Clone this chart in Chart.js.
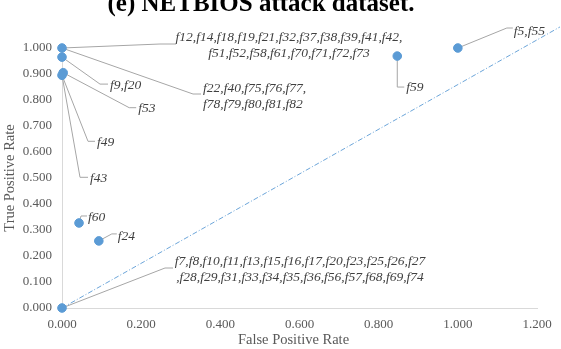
<!DOCTYPE html>
<html>
<head>
<meta charset="utf-8">
<script src="https://cdn.jsdelivr.net/npm/chart.js@4"></script>
<style>
  html, body { margin: 0; padding: 0; background: #ffffff; }
  #wrap { width: 561px; height: 349px; position: relative; }
</style>
</head>
<body>
<div id="wrap"><canvas id="c" width="561" height="349"></canvas></div>
<script>
// ---- data ----
const titleText = "(e) NETBIOS attack dataset.";
const xAxisTitle = "False Positive Rate";
const yAxisTitle = "True Positive Rate";
const xTicks = [0, 0.2, 0.4, 0.6, 0.8, 1.0, 1.2];
const yTicks = [0, 0.1, 0.2, 0.3, 0.4, 0.5, 0.6, 0.7, 0.8, 0.9, 1.0];
const fpr = [0, 0, 0.003, 0, 0.043, 0.093, 0.847, 1.0, 0];
const tpr = [1.0, 0.965, 0.905, 0.895, 0.327, 0.258, 0.969, 1.0, 0];
const refLineX = [0, 1.258];
const refLineY = [0, 1.081];
const labelTexts = [
  ["f12,f14,f18,f19,f21,f32,f37,f38,f39,f41,f42,", "f51,f52,f58,f61,f70,f71,f72,f73"],
  ["f22,f40,f75,f76,f77,", "f78,f79,f80,f81,f82"],
  ["f9,f20"],
  ["f53"],
  ["f49"],
  ["f43"],
  ["f60"],
  ["f24"],
  ["f59"],
  ["f5,f55"],
  ["f7,f8,f10,f11,f13,f15,f16,f17,f20,f23,f25,f26,f27", ",f28,f29,f31,f33,f34,f35,f36,f56,f57,f68,f69,f74"]
];
const labelPoint = [0, 0, 1, 2, 3, 3, 4, 5, 6, 7, 8];

// ---- label layout (pixel offsets from anchor point) ----
const labelLayout = [
  { align: 'center', text: [227, -11], elbow: [98, -4], end: [114, -4] },
  { align: 'left', text: [141, 40], elbow: [131, 46], end: [139, 46] },
  { align: 'left', text: [48, 28], elbow: [38, 27], end: [46, 27] },
  { align: 'left', text: [75, 36], elbow: [66, 35], end: [73, 35] },
  { align: 'left', text: [35, 67], elbow: [26, 66], end: [33, 66] },
  { align: 'left', text: [28, 103], elbow: [18, 102], end: [26, 102] },
  { align: 'left', text: [9, -6], elbow: [2, -7], end: [8, -7] },
  { align: 'left', text: [19, -4], elbow: [13, -7], end: [18, -7] },
  { align: 'left', text: [9, 31], elbow: [0, 31], end: [7, 31] },
  { align: 'left', text: [56, -17], elbow: [49, -20], end: [55, -20] },
  { align: 'center', text: [238, -47], elbow: [103, -40], end: [111, -40] }
];

const points = fpr.map((x, i) => ({ x: x, y: tpr[i] }));
const refLine = refLineX.map((x, i) => ({ x: x, y: refLineY[i] }));

const SERIF = '"Liberation Serif", "Times New Roman", serif';
const gray = '#595959';

const annotPlugin = {
  id: 'annot',
  beforeDatasetsDraw(chart) {
    const ctx = chart.ctx;
    const meta = chart.getDatasetMeta(1);
    ctx.save();
    ctx.strokeStyle = '#a6a6a6';
    ctx.lineWidth = 1;
    labelLayout.forEach((L, i) => {
      const el = meta.data[labelPoint[i]];
      const px = el.x, py = el.y;
      ctx.beginPath();
      ctx.moveTo(px, py);
      ctx.lineTo(px + L.elbow[0], py + L.elbow[1]);
      ctx.lineTo(px + L.end[0], py + L.end[1]);
      ctx.stroke();
    });
    ctx.restore();
  },
  afterDraw(chart) {
    const ctx = chart.ctx;
    const meta = chart.getDatasetMeta(1);
    const area = chart.chartArea;
    ctx.save();
    // labels
    ctx.fillStyle = '#404040';
    ctx.font = 'italic 13.5px ' + SERIF;
    ctx.textBaseline = 'middle';
    labelLayout.forEach((L, i) => {
      const el = meta.data[labelPoint[i]];
      const lines = labelTexts[i];
      ctx.textAlign = L.align;
      lines.forEach((t, k) => {
        ctx.fillText(t, el.x + L.text[0], el.y + L.text[1] + k * 16);
      });
    });
    // title
    ctx.fillStyle = '#000000';
    ctx.font = 'bold 25px ' + SERIF;
    ctx.textAlign = 'center';
    ctx.textBaseline = 'alphabetic';
    ctx.fillText(titleText, 261, 11);
    // axis titles
    ctx.fillStyle = gray;
    ctx.font = '14.5px ' + SERIF;
    ctx.textBaseline = 'middle';
    ctx.fillText(xAxisTitle, (area.left + area.right) / 2 - 6, 340);
    ctx.translate(10, (area.top + area.bottom) / 2);
    ctx.rotate(-Math.PI / 2);
    ctx.fillText(yAxisTitle, 0, 0);
    ctx.restore();
  }
};

new Chart(document.getElementById('c'), {
  type: 'scatter',
  data: {
    datasets: [
      {
        type: 'line',
        data: refLine,
        borderColor: '#5b9bd5',
        borderWidth: 0.9,
        borderDash: [5, 2, 1, 2],
        pointRadius: 0,
        fill: false,
        clip: false,
        order: 2
      },
      {
        data: points,
        backgroundColor: '#5b9bd5',
        borderColor: '#5b9bd5',
        pointRadius: 4.3,
        pointHoverRadius: 4.3,
        clip: false,
        order: 1
      }
    ]
  },
  options: {
    responsive: false,
    animation: false,
    events: [],
    layout: { padding: { left: 0, top: 48, right: 24, bottom: 0 } },
    plugins: { legend: { display: false }, tooltip: { enabled: false }, title: { display: false } },
    scales: {
      x: {
        type: 'linear',
        min: 0, max: 1.2,
        afterFit(s) { s.height = 41; },
        afterBuildTicks(s) { s.ticks = xTicks.map(v => ({ value: v })); },
        grid: { display: false, drawTicks: false },
        border: { display: true, color: '#d9d9d9', width: 1 },
        ticks: {
          padding: 9,
          color: gray,
          font: { family: SERIF, size: 13 },
          maxRotation: 0,
          callback: v => Number(v).toFixed(3)
        }
      },
      y: {
        type: 'linear',
        min: 0, max: 1.0,
        afterFit(s) { s.width = 62; },
        afterBuildTicks(s) { s.ticks = yTicks.map(v => ({ value: v })); },
        grid: { display: false, drawTicks: false },
        border: { display: true, color: '#d9d9d9', width: 1 },
        ticks: {
          padding: 10,
          color: gray,
          font: { family: SERIF, size: 13 },
          callback: v => Number(v).toFixed(3)
        }
      }
    }
  },
  plugins: [annotPlugin]
});
</script>
</body>
</html>
